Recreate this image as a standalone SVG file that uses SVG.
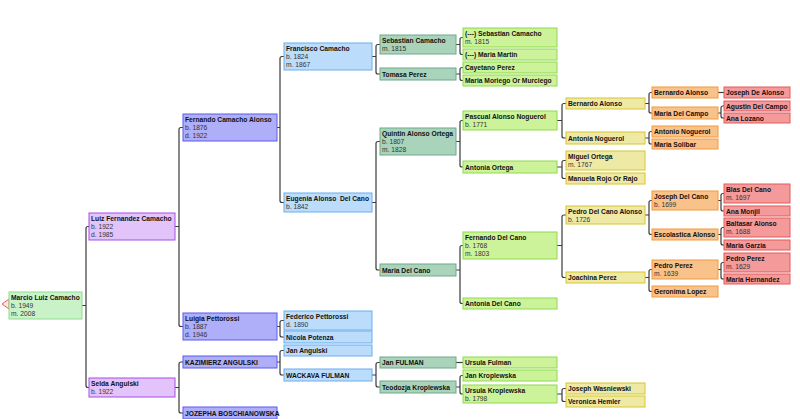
<svg xmlns="http://www.w3.org/2000/svg" width="800" height="419" viewBox="0 0 800 419">
<style>
text{font-family:"Liberation Sans",Arial,sans-serif;font-size:6.7px}
.n{font-weight:bold;fill:#111}
.d{fill:#333}
rect{stroke-width:1}
.c0{fill:#c9f2c9;stroke:#8ede8e}
.c1{fill:#e2c4fb;stroke:#a84de6}
.c2{fill:#aeaef9;stroke:#5a5aee}
.c3{fill:#bcdcfb;stroke:#6aaeee}
.c4{fill:#a9d4bb;stroke:#6ea88a}
.c5{fill:#cdf39a;stroke:#8fd94c}
.c6{fill:#efe9a6;stroke:#d6c62c}
.c7{fill:#f9c28a;stroke:#f39a3c}
.c8{fill:#f59a9a;stroke:#e25a5a}
#connectors path{fill:none;stroke:#3a3a3a;stroke-width:1.2}
</style>
<rect width="800" height="419" fill="#ffffff"/>
<g id="connectors">
<path d="M82,305.5H86M89,226.5H88Q86,226.5 86,228.5V385.5Q86,387.5 88,387.5H89"/>
<path d="M175,226.5H179M183,127.5H181Q179,127.5 179,129.5V324.5Q179,326.5 181,326.5H183"/>
<path d="M175,387.5H179M183,362H181Q179,362 179,364V411Q179,413 181,413H183"/>
<path d="M277,127.5H280M284,56.5H282Q280,56.5 280,58.5V200.5Q280,202.5 282,202.5H284"/>
<path d="M277,326.5H280M284,320.5H282Q280,320.5 280,322.5V335Q280,337 282,337H284"/>
<path d="M277,362H280M284,350.5H282Q280,350.5 280,352.5V373Q280,375 282,375H284"/>
<path d="M372,56.5H376M380,44.5H378Q376,44.5 376,46.5V72Q376,74 378,74H380"/>
<path d="M372,202.5H376M380,141.5H378Q376,141.5 376,143.5V268Q376,270 378,270H380"/>
<path d="M372,375H376M380,362.5H378Q376,362.5 376,364.5V385Q376,387 378,387H380"/>
<path d="M456,44.5H460M463,37.5H462Q460,37.5 460,39.5V52.5Q460,54.5 462,54.5H463"/>
<path d="M456,74H460M463,67.5H462Q460,67.5 460,69.5V78.5Q460,80.5 462,80.5H463"/>
<path d="M456,141.5H460M463,120.5H462Q460,120.5 460,122.5V165Q460,167 462,167H463"/>
<path d="M456,270H460M463,245.5H462Q460,245.5 460,247.5V301.5Q460,303.5 462,303.5H463"/>
<path d="M456,362.5H463"/>
<path d="M456,387H460M463,375.5H462Q460,375.5 460,377.5V392Q460,394 462,394H463"/>
<path d="M557,120.5H562M566,103.5H564Q562,103.5 562,105.5V136Q562,138 564,138H566"/>
<path d="M557,167H562M566,160.5H564Q562,160.5 562,162.5V176.5Q562,178.5 564,178.5H566"/>
<path d="M557,245.5H562M566,215H564Q562,215 562,217V275.5Q562,277.5 564,277.5H566"/>
<path d="M557,394H562M566,388.5H564Q562,388.5 562,390.5V399.5Q562,401.5 564,401.5H566"/>
<path d="M645,103.5H649M652,92.5H651Q649,92.5 649,94.5V111Q649,113 651,113H652"/>
<path d="M645,138H649M652,131.5H651Q649,131.5 649,133.5V142Q649,144 651,144H652"/>
<path d="M645,215H649M652,200.5H651Q649,200.5 649,202.5V232.5Q649,234.5 651,234.5H652"/>
<path d="M645,277.5H649M652,269.5H651Q649,269.5 649,271.5V289.5Q649,291.5 651,291.5H652"/>
<path d="M718,92.5H724"/>
<path d="M718,113H721M724,106H723Q721,106 721,108V116Q721,118 723,118H724"/>
<path d="M718,200.5H721M724,193.5H723Q721,193.5 721,195.5V209Q721,211 723,211H724"/>
<path d="M718,234.5H721M724,227.5H723Q721,227.5 721,229.5V243Q721,245 723,245H724"/>
<path d="M718,269.5H721M724,262.5H723Q721,262.5 721,264.5V277Q721,279 723,279H724"/>
</g>
<polygon points="9,299 2,304 9,309" fill="#fde6e6" stroke="#e85a5a" stroke-width="1"/>
<g id="n-marcio"><rect class="c0" x="9" y="292" width="73" height="27"/><text class="n" x="11" y="300">Marcio Luiz Camacho</text><text class="d" x="11" y="308">b. 1949</text><text class="d" x="11" y="316">m. 2008</text></g>
<g id="n-luiz"><rect class="c1" x="89" y="213" width="86" height="27"/><text class="n" x="91" y="221">Luiz Fernandez Camacho</text><text class="d" x="91" y="229">b. 1922</text><text class="d" x="91" y="237">d. 1985</text></g>
<g id="n-selda"><rect class="c1" x="89" y="378" width="86" height="19"/><text class="n" x="91" y="386">Selda Angulski</text><text class="d" x="91" y="394">b. 1922</text></g>
<g id="n-fernando-ca"><rect class="c2" x="183" y="114" width="94" height="27"/><text class="n" x="185" y="122">Fernando Camacho Alonso</text><text class="d" x="185" y="130">b. 1876</text><text class="d" x="185" y="138">d. 1922</text></g>
<g id="n-luigia"><rect class="c2" x="183" y="313" width="94" height="27"/><text class="n" x="185" y="321">Luigia Pettorossi</text><text class="d" x="185" y="329">b. 1887</text><text class="d" x="185" y="337">d. 1946</text></g>
<g id="n-kazimierz"><rect class="c2" x="183" y="356" width="94" height="12"/><text class="n" x="185" y="364.5">KAZIMIERZ ANGULSKI</text></g>
<g id="n-jozepha"><rect class="c2" x="183" y="407" width="94" height="12"/><text class="n" x="185" y="415.5">JOZEPHA BOSCHIANOWSKA</text></g>
<g id="n-francisco"><rect class="c3" x="284" y="43" width="88" height="27"/><text class="n" x="286" y="51">Francisco Camacho</text><text class="d" x="286" y="59">b. 1824</text><text class="d" x="286" y="67">m. 1867</text></g>
<g id="n-eugenia"><rect class="c3" x="284" y="193" width="88" height="19"/><text class="n" x="286" y="201" xml:space="preserve">Eugenia Alonso  Del Cano</text><text class="d" x="286" y="209">b. 1842</text></g>
<g id="n-federico"><rect class="c3" x="284" y="311" width="88" height="19"/><text class="n" x="286" y="319">Federico Pettorossi</text><text class="d" x="286" y="327">d. 1890</text></g>
<g id="n-nicola"><rect class="c3" x="284" y="331" width="88" height="12"/><text class="n" x="286" y="339.5">Nicola Potenza</text></g>
<g id="n-jan-angulski"><rect class="c3" x="284" y="345" width="88" height="11"/><text class="n" x="286" y="353">Jan Angulski</text></g>
<g id="n-wackava"><rect class="c3" x="284" y="369" width="88" height="12"/><text class="n" x="286" y="377.5">WACKAVA FULMAN</text></g>
<g id="n-sebastian"><rect class="c4" x="380" y="35" width="76" height="19"/><text class="n" x="382" y="43">Sebastian Camacho</text><text class="d" x="382" y="51">m. 1815</text></g>
<g id="n-tomasa"><rect class="c4" x="380" y="68" width="76" height="12"/><text class="n" x="382" y="76.5">Tomasa Perez</text></g>
<g id="n-quintin"><rect class="c4" x="380" y="128" width="76" height="27"/><text class="n" x="382" y="136">Quintin Alonso Ortega</text><text class="d" x="382" y="144">b. 1807</text><text class="d" x="382" y="152">m. 1828</text></g>
<g id="n-maria-del-cano"><rect class="c4" x="380" y="264" width="76" height="12"/><text class="n" x="382" y="272.5">Maria Del Cano</text></g>
<g id="n-jan-fulman"><rect class="c4" x="380" y="357" width="76" height="11"/><text class="n" x="382" y="365">Jan FULMAN</text></g>
<g id="n-teodozja"><rect class="c4" x="380" y="381" width="76" height="12"/><text class="n" x="382" y="389.5">Teodozja Kroplewska</text></g>
<g id="n-sebastian-sr"><rect class="c5" x="463" y="28" width="94" height="19"/><text class="n" x="465" y="36">(---) Sebastian Camacho</text><text class="d" x="465" y="44">m. 1815</text></g>
<g id="n-maria-martin"><rect class="c5" x="463" y="49" width="94" height="11"/><text class="n" x="465" y="57">(---) Maria Martin</text></g>
<g id="n-cayetano"><rect class="c5" x="463" y="62" width="94" height="11"/><text class="n" x="465" y="70">Cayetano Perez</text></g>
<g id="n-moriego"><rect class="c5" x="463" y="75" width="94" height="11"/><text class="n" x="465" y="83">Maria Moriego Or Murciego</text></g>
<g id="n-pascual"><rect class="c5" x="463" y="111" width="94" height="19"/><text class="n" x="465" y="119">Pascual Alonso Noguerol</text><text class="d" x="465" y="127">b. 1771</text></g>
<g id="n-antonia-ortega"><rect class="c5" x="463" y="161" width="94" height="12"/><text class="n" x="465" y="169.5">Antonia Ortega</text></g>
<g id="n-fernando-dc"><rect class="c5" x="463" y="232" width="94" height="27"/><text class="n" x="465" y="240">Fernando Del Cano</text><text class="d" x="465" y="248">b. 1768</text><text class="d" x="465" y="256">m. 1803</text></g>
<g id="n-antonia-dc"><rect class="c5" x="463" y="298" width="94" height="11"/><text class="n" x="465" y="306">Antonia Del Cano</text></g>
<g id="n-ursula-fulman"><rect class="c5" x="463" y="357" width="94" height="11"/><text class="n" x="465" y="365">Ursula Fulman</text></g>
<g id="n-jan-kroplewska"><rect class="c5" x="463" y="370" width="94" height="11"/><text class="n" x="465" y="378">Jan Kroplewska</text></g>
<g id="n-ursula-kroplewska"><rect class="c5" x="463" y="385" width="94" height="18"/><text class="n" x="465" y="393">Ursula Kroplewska</text><text class="d" x="465" y="401">b. 1798</text></g>
<g id="n-bernardo-y"><rect class="c6" x="566" y="98" width="79" height="11"/><text class="n" x="568" y="106">Bernardo Alonso</text></g>
<g id="n-antonia-noguerol"><rect class="c6" x="566" y="132" width="79" height="12"/><text class="n" x="568" y="140.5">Antonia Noguerol</text></g>
<g id="n-miguel"><rect class="c6" x="566" y="151" width="79" height="19"/><text class="n" x="568" y="159">Miguel Ortega</text><text class="d" x="568" y="167">m. 1767</text></g>
<g id="n-manuela"><rect class="c6" x="566" y="173" width="79" height="11"/><text class="n" x="568" y="181">Manuela Rojo Or Rajo</text></g>
<g id="n-pedro-dca"><rect class="c6" x="566" y="206" width="79" height="18"/><text class="n" x="568" y="214">Pedro Del Cano Alonso</text><text class="d" x="568" y="222">b. 1726</text></g>
<g id="n-joachina"><rect class="c6" x="566" y="272" width="79" height="11"/><text class="n" x="568" y="280">Joachina Perez</text></g>
<g id="n-joseph-w"><rect class="c6" x="566" y="383" width="79" height="11"/><text class="n" x="568" y="391">Joseph Wasniewski</text></g>
<g id="n-veronica"><rect class="c6" x="566" y="396" width="79" height="11"/><text class="n" x="568" y="404">Veronica Hemler</text></g>
<g id="n-bernardo-o"><rect class="c7" x="652" y="87" width="66" height="11"/><text class="n" x="654" y="95">Bernardo Alonso</text></g>
<g id="n-maria-del-campo"><rect class="c7" x="652" y="107" width="66" height="12"/><text class="n" x="654" y="115.5">Maria Del Campo</text></g>
<g id="n-antonio-noguerol"><rect class="c7" x="652" y="126" width="66" height="11"/><text class="n" x="654" y="134">Antonio Noguerol</text></g>
<g id="n-maria-solibar"><rect class="c7" x="652" y="139" width="66" height="10"/><text class="n" x="654" y="146.5">Maria Solibar</text></g>
<g id="n-joseph-dc"><rect class="c7" x="652" y="191" width="66" height="19"/><text class="n" x="654" y="199">Joseph Del Cano</text><text class="d" x="654" y="207">b. 1699</text></g>
<g id="n-escolastica"><rect class="c7" x="652" y="229" width="66" height="11"/><text class="n" x="654" y="237">Escolastica Alonso</text></g>
<g id="n-pedro-perez-o"><rect class="c7" x="652" y="260" width="66" height="19"/><text class="n" x="654" y="268">Pedro Perez</text><text class="d" x="654" y="276">m. 1639</text></g>
<g id="n-geronima"><rect class="c7" x="652" y="286" width="66" height="11"/><text class="n" x="654" y="294">Geronima Lopez</text></g>
<g id="n-joseph-da"><rect class="c8" x="724" y="87" width="66" height="11"/><text class="n" x="726" y="95">Joseph De Alonso</text></g>
<g id="n-agustin"><rect class="c8" x="724" y="101" width="66" height="10"/><text class="n" x="726" y="108.5">Agustin Del Campo</text></g>
<g id="n-ana-lozano"><rect class="c8" x="724" y="113" width="66" height="10"/><text class="n" x="726" y="120.5">Ana Lozano</text></g>
<g id="n-blas"><rect class="c8" x="724" y="184" width="66" height="19"/><text class="n" x="726" y="192">Blas Del Cano</text><text class="d" x="726" y="200">m. 1697</text></g>
<g id="n-ana-monjil"><rect class="c8" x="724" y="206" width="66" height="10"/><text class="n" x="726" y="213.5">Ana Monjil</text></g>
<g id="n-baltasar"><rect class="c8" x="724" y="218" width="66" height="19"/><text class="n" x="726" y="226">Baltasar Alonso</text><text class="d" x="726" y="234">m. 1688</text></g>
<g id="n-maria-garzia"><rect class="c8" x="724" y="240" width="66" height="10"/><text class="n" x="726" y="247.5">Maria Garzia</text></g>
<g id="n-pedro-perez-r"><rect class="c8" x="724" y="253" width="66" height="19"/><text class="n" x="726" y="261">Pedro Perez</text><text class="d" x="726" y="269">m. 1629</text></g>
<g id="n-maria-hernandez"><rect class="c8" x="724" y="274" width="66" height="10"/><text class="n" x="726" y="281.5">Maria Hernandez</text></g>
</svg>
